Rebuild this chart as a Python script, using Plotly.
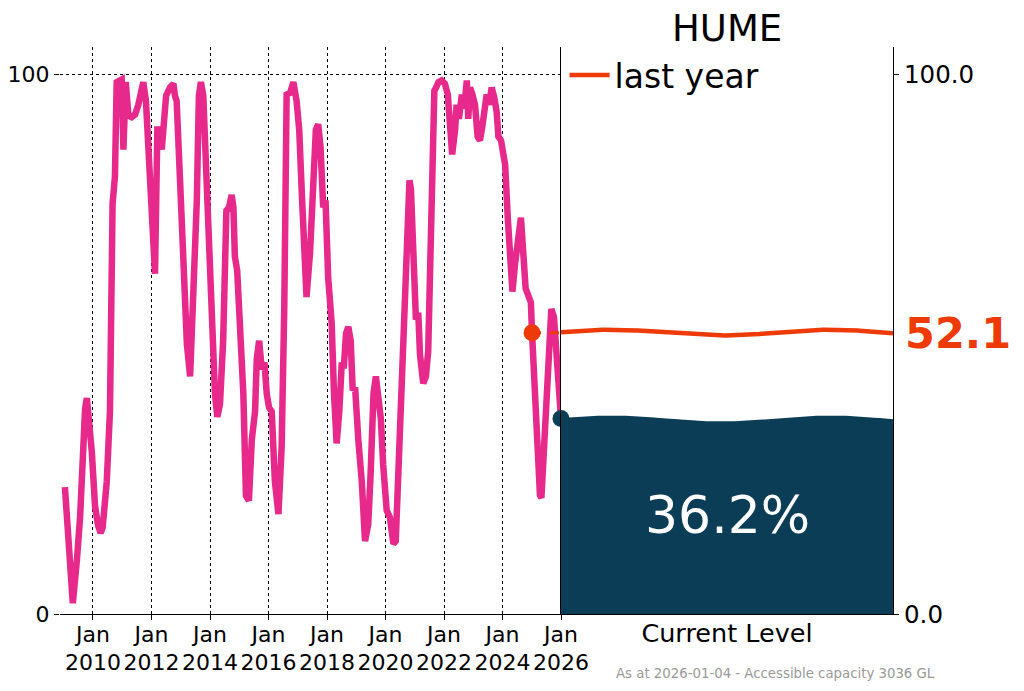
import numpy as np
import plotly.graph_objects as go

# ---------------- data ----------------
reservoir = "HUME"
years = [2009.04, 2009.31, 2009.45, 2009.56, 2009.73, 2009.79, 2009.96, 2010.07, 2010.17, 2010.26,
         2010.33, 2010.47, 2010.58, 2010.67, 2010.75, 2010.81, 2010.98, 2011.04, 2011.12, 2011.21,
         2011.32, 2011.44, 2011.55, 2011.61, 2011.72, 2011.81, 2011.86, 2012.00, 2012.12, 2012.20,
         2012.29, 2012.35, 2012.40, 2012.50, 2012.63, 2012.75, 2012.80, 2012.86, 2013.03, 2013.15,
         2013.21, 2013.32, 2013.43, 2013.55, 2013.62, 2013.69, 2013.77, 2013.85, 2013.92, 2014.05,
         2014.17, 2014.25, 2014.34, 2014.45, 2014.56, 2014.65, 2014.74, 2014.80, 2014.85, 2014.93,
         2015.03, 2015.14, 2015.23, 2015.33, 2015.43, 2015.54, 2015.60, 2015.68, 2015.77, 2015.86,
         2015.94, 2016.02, 2016.11, 2016.22, 2016.34, 2016.45, 2016.54, 2016.62, 2016.74, 2016.85,
         2016.96, 2017.05, 2017.15, 2017.25, 2017.30, 2017.42, 2017.53, 2017.62, 2017.70, 2017.78,
         2017.87, 2017.95, 2018.04, 2018.16, 2018.24, 2018.33, 2018.42, 2018.50, 2018.58, 2018.65,
         2018.73, 2018.81, 2018.88, 2018.96, 2019.07, 2019.19, 2019.30, 2019.41, 2019.49, 2019.59,
         2019.67, 2019.76, 2019.84, 2019.92, 2020.04, 2020.15, 2020.27, 2020.35, 2020.44, 2020.55,
         2020.67, 2020.75, 2020.82, 2020.87, 2020.95, 2021.04, 2021.12, 2021.18, 2021.29, 2021.38,
         2021.46, 2021.54, 2021.61, 2021.67, 2021.73, 2021.81, 2021.92, 2022.03, 2022.13, 2022.21,
         2022.28, 2022.38, 2022.43, 2022.51, 2022.61, 2022.69, 2022.78, 2022.83, 2022.89, 2022.97,
         2023.06, 2023.15, 2023.23, 2023.31, 2023.40, 2023.46, 2023.54, 2023.63, 2023.72, 2023.80,
         2023.86, 2023.95, 2024.03, 2024.09, 2024.18, 2024.26, 2024.34, 2024.43, 2024.54, 2024.63,
         2024.71, 2024.79, 2024.88, 2024.97, 2025.01, 2025.10, 2025.19, 2025.28, 2025.33, 2025.42,
         2025.50, 2025.58, 2025.67, 2025.76, 2025.84, 2025.93, 2026.00]
levels = [23.5, 2.0, 10.0, 18.0, 38.0, 40.0, 30.0, 20.0, 16.5, 15.0,
          16.0, 24.5, 37.5, 76.0, 81.0, 98.5, 99.0, 86.0, 98.5, 92.3,
          92.0, 92.5, 94.3, 96.5, 98.5, 95.0, 89.7, 76.6, 63.0, 89.7,
          89.7, 86.0, 89.7, 96.0, 97.5, 98.2, 96.0, 95.0, 73.4, 57.0,
          50.0, 44.0, 57.0, 76.6, 96.0, 98.5, 96.0, 84.5, 77.3, 57.0,
          40.8, 36.5, 38.8, 50.6, 74.7, 75.3, 77.6, 75.3, 66.2, 63.6,
          51.9, 40.8, 21.9, 21.0, 32.3, 37.5, 47.3, 50.6, 45.3, 46.6,
          40.8, 38.2, 37.5, 24.5, 18.5, 31.0, 57.0, 96.2, 96.5, 98.5,
          95.0, 89.7, 76.6, 63.6, 58.7, 66.9, 78.0, 89.7, 90.7, 86.4,
          75.3, 76.6, 62.3, 53.8, 40.8, 31.6, 37.5, 46.0, 46.0, 51.9,
          53.2, 50.6, 41.4, 42.0, 32.3, 24.5, 13.5, 16.6, 25.8, 40.8,
          44.0, 40.8, 36.2, 27.7, 19.2, 17.9, 13.0, 13.5, 27.7, 44.0,
          63.6, 68.8, 80.3, 78.6, 66.9, 54.5, 55.8, 48.0, 42.7, 44.0,
          48.6, 70.1, 89.7, 96.9, 97.5, 98.5, 98.8, 98.2, 96.2, 89.7,
          85.1, 89.7, 94.3, 91.7, 96.2, 93.6, 98.8, 91.7, 97.5, 96.2,
          94.3, 88.4, 87.7, 90.3, 94.3, 96.2, 94.3, 97.5, 95.6, 93.0,
          88.4, 87.7, 85.1, 83.2, 73.4, 65.6, 59.7, 64.9, 70.1, 73.4,
          66.9, 60.3, 59.0, 57.7, 52.1, 40.8, 27.7, 22.0, 21.5, 31.0,
          40.8, 50.6, 56.5, 55.0, 47.3, 40.8, 36.2]
tick_years = [2010, 2012, 2014, 2016, 2018, 2020, 2022, 2024, 2026]
tick_text = ["Jan<br>%d" % y for y in tick_years]
current_level = 36.2
last_year_level = 52.1
last_year_date = 2025.01
current_date = 2026.00
footnote = "As at 2026-01-04 - Accessible capacity 3036 GL"

# ---------------- style ----------------
PINK = "#e6298a"
ORANGE = "#ee3a06"
NAVY = "#0b3e56"
FONT = "DejaVu Sans"
WAVE_AMP = 0.55

# page has an 8px body margin; figure sized to fit inside it
W, H = 1008, 675
L, R, T, B = 52, 123, 39, 69
PW = W - L - R          # 833
PH = H - T - B          # 567
split = (561 - 60) / PW


def px_x(px):   # page x pixel -> paper x
    return (px - 8 - L) / PW


def px_y(py):   # page y pixel -> paper y
    return (H - B - (py - 8)) / PH


t = np.linspace(0, 1, 200)
wave = WAVE_AMP * np.cos(2 * np.pi * (t - 0.15) / 0.66)

fig = go.Figure()

fig.add_trace(go.Scatter(x=years, y=levels, mode="lines",
                         line=dict(color=PINK, width=6.5), showlegend=False,
                         xaxis="x", yaxis="y", hoverinfo="skip"))
fig.add_trace(go.Scatter(x=[last_year_date, current_date], y=[last_year_level, last_year_level],
                         mode="lines", line=dict(color=ORANGE, width=3, dash="dash"),
                         showlegend=False, xaxis="x", yaxis="y", cliponaxis=False))
fig.add_trace(go.Scatter(x=[last_year_date], y=[last_year_level], mode="markers",
                         marker=dict(color=ORANGE, size=17), showlegend=False,
                         xaxis="x", yaxis="y", cliponaxis=False))
fig.add_trace(go.Scatter(x=[current_date], y=[current_level], mode="markers",
                         marker=dict(color=NAVY, size=17), showlegend=False,
                         xaxis="x", yaxis="y", cliponaxis=False))

# right panel
fig.add_trace(go.Scatter(x=t, y=current_level + wave, mode="lines", fill="tozeroy",
                         fillcolor=NAVY, line=dict(color=NAVY, width=0),
                         showlegend=False, xaxis="x2", yaxis="y2"))
fig.add_trace(go.Scatter(x=t, y=last_year_level + wave, mode="lines",
                         line=dict(color=ORANGE, width=4.5), name="last year",
                         showlegend=True, xaxis="x2", yaxis="y2"))

fig.update_layout(
    width=W, height=H,
    margin=dict(l=L, r=R, t=T, b=B, autoexpand=False),
    paper_bgcolor="white", plot_bgcolor="white",
    font=dict(family=FONT, size=22, color="black"),
    xaxis=dict(domain=[0, split], range=[2008.872, 2026.0], tickvals=tick_years,
               ticktext=tick_text, showgrid=True, griddash="dot", gridcolor="black",
               gridwidth=1, showline=True, linecolor="black", linewidth=1.2,
               ticks="outside", ticklen=5, tickcolor="black", zeroline=False,
               tickfont=dict(size=22), ticklabelstandoff=-5, tickangle=0,
               automargin=False),
    yaxis=dict(domain=[0, 1], range=[0, 105], tickvals=[0, 100], ticktext=["0", "100"],
               showgrid=True, griddash="dot", gridcolor="black", gridwidth=1,
               showline=False, ticks="outside", ticklen=5, tickcolor="black",
               zeroline=False, tickfont=dict(size=22), automargin=False),
    xaxis2=dict(domain=[split, 1], range=[0, 1], anchor="y2", tickvals=[0.5],
                ticktext=["Current Level"], ticks="", showgrid=False, showline=True,
                linecolor="black", linewidth=1.2, zeroline=False,
                tickfont=dict(size=25.5), ticklabelstandoff=-4, tickangle=0,
                automargin=False),
    yaxis2=dict(domain=[0, 1], range=[0, 105], anchor="x2", side="right",
                tickvals=[0, 100], ticktext=["0.0", "100.0"], showgrid=False,
                showline=True, mirror=True, linecolor="black", linewidth=1.2,
                ticks="outside", ticklen=5, tickcolor="black", zeroline=False,
                tickfont=dict(size=24.5), automargin=False),
    legend=dict(x=px_x(564.6), y=px_y(75), xanchor="left", yanchor="middle",
                bgcolor="rgba(0,0,0,0)", font=dict(size=33), itemwidth=40),
    showlegend=True,
)

mid2 = (split + 1) / 2
fig.add_annotation(text=reservoir, xref="paper", yref="paper", x=mid2, y=px_y(29),
                   xanchor="center", yanchor="middle", showarrow=False,
                   font=dict(size=37, color="black"))
fig.add_annotation(text="<b>%.1f</b>" % last_year_level, xref="paper", yref="y2",
                   x=px_x(903), y=last_year_level, xanchor="left",
                   yanchor="middle", showarrow=False, font=dict(size=43, color=ORANGE))
fig.add_annotation(text="%.1f%%" % current_level, xref="x2", yref="paper", x=0.5,
                   y=px_y(515), xanchor="center", yanchor="middle", showarrow=False,
                   font=dict(size=52, color="white"))
fig.add_annotation(text=footnote, xref="paper", yref="paper",
                   x=px_x(775), y=px_y(673),
                   xanchor="center", yanchor="middle", showarrow=False,
                   font=dict(size=13.3, color="#999999"))

fig.write_html("out.html")
